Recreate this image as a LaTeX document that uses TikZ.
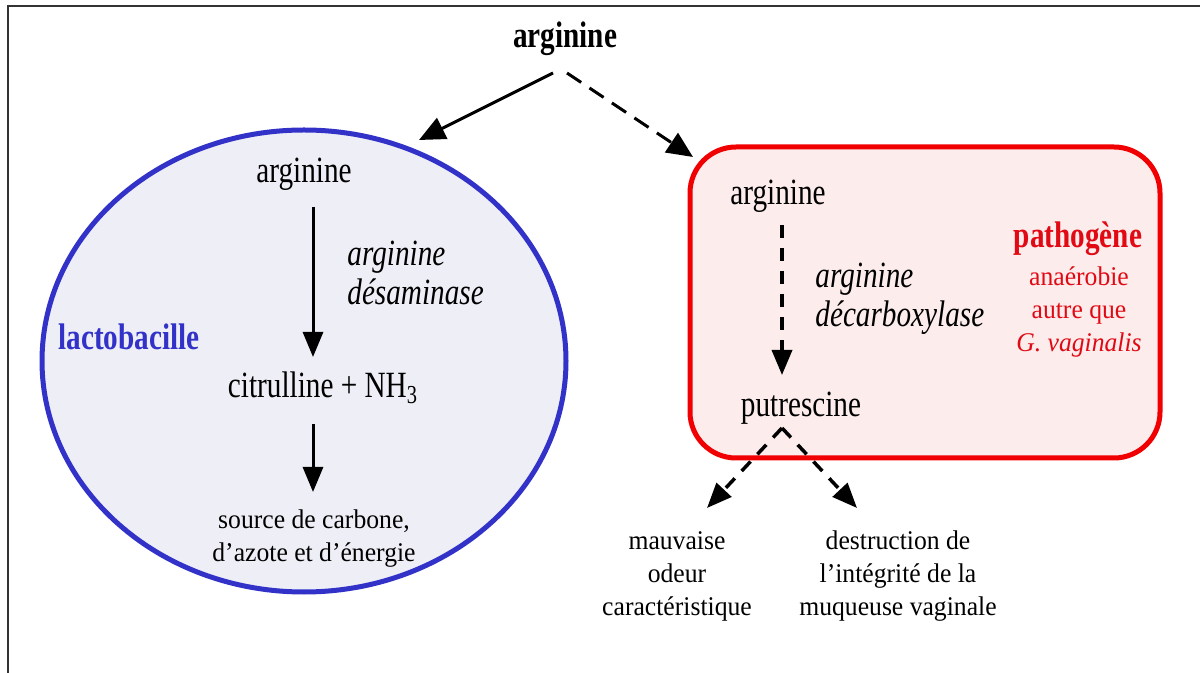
\documentclass[tikz,border=0pt]{standalone}
\usepackage{fontspec}
\setmainfont{Liberation Serif}[FakeStretch=0.79]
\newfontfamily\labelfont{Liberation Serif}[FakeStretch=0.95]
\usetikzlibrary{arrows.meta,shapes.geometric}

\definecolor{lactoblue}{RGB}{50,50,200}
\definecolor{lactofill}{RGB}{238,238,246}
\definecolor{pathored}{RGB}{240,0,0}
\definecolor{pathofill}{RGB}{252,236,236}
\definecolor{pathotext}{RGB}{225,10,20}

\begin{document}
\begin{tikzpicture}[x=0.5pt,y=-0.5pt,
  frameline/.style={draw=black!80,line width=1pt},
  txt/.style={inner sep=0pt,anchor=base,font=\fontsize{18.5}{19.5}\selectfont},
  boldtxt/.style={txt,font=\bfseries\fontsize{18.5}{19.5}\selectfont},
  enzyme/.style={inner sep=0pt,anchor=base west,align=left,font=\itshape\fontsize{18.5}{19.5}\selectfont},
  smalltxt/.style={inner sep=0pt,anchor=base,align=center,font=\labelfont\fontsize{13.5}{16.25}\selectfont},
  solidarrow/.style={line width=1.5pt,-{Triangle[length=13pt,width=11.5pt]}},
  dasharrow/.style={solidarrow,dash pattern=on 8.5pt off 5pt},
  innerarrow/.style={line width=1.5pt,-{Triangle[length=12.5pt,width=10pt]}},
  innerdash/.style={innerarrow,line width=1.75pt,dash pattern=on 6.5pt off 5pt}
]
\useasboundingbox (0,0) rectangle (1200,673);

% page frame (top and left edges)
\draw[frameline] (1200,6) -- (8,6) -- (8,673);

% the two organisms
\node[ellipse,draw=lactoblue,fill=lactofill,line width=2.5pt,
      minimum width=262pt,minimum height=231pt,inner sep=0pt] (lacto) at (304,361) {};
\node[rectangle,rounded corners=23pt,draw=pathored,fill=pathofill,line width=2.5pt,
      minimum width=235pt,minimum height=155.5pt,inner sep=0pt] (patho) at (925,302.5) {};

% substrate on top
\node[boldtxt] (top) at (565,48) {arginine};
\coordinate (topL) at (553,73);
\coordinate (topR) at (567,73);
\coordinate (inL) at (419,140);
\coordinate (inR) at (693,157);
\draw[solidarrow] (topL) -- (inL);
\draw[dasharrow] (topR) -- (inR);

% lactobacillus pathway (multi-line nodes sit on their last baseline)
\node[boldtxt,text=lactoblue,anchor=base west] (lname) at (58,350) {lactobacille};
\node[txt] (arg1) at (304,183) {arginine};
\node[enzyme] (enz1) at (347,305) {arginine\\désaminase};
\node[txt] (citr) at (323,398) {citrulline + NH\textsubscript{3}};
\node[smalltxt] (src) at (314,561) {source de carbone,\\d’azote et d’énergie};
\coordinate (a1s) at (313,207);
\coordinate (a1e) at (313,357);
\coordinate (a2s) at (313,424);
\coordinate (a2e) at (313,492);
\draw[innerarrow] (a1s) -- (a1e);
\draw[innerarrow] (a2s) -- (a2e);

% pathogen pathway
\node[txt] (arg2) at (778,205) {arginine};
\node[enzyme] (enz2) at (815,327) {arginine\\décarboxylase};
\node[txt] (putr) at (801,417) {putrescine};
\coordinate (b1s) at (782,225);
\coordinate (b1e) at (782,375);
\draw[innerdash] (b1s) -- (b1e);

\node[boldtxt,text=pathotext] (pname) at (1078,248) {pathogène};
\node[smalltxt,text=pathotext,font=\labelfont\fontsize{13.5}{16.5}\selectfont] (pdesc) at (1079,352)
  {anaérobie\\autre que\\\textit{G. vaginalis}};

% consequences of putrescine
\coordinate (apex) at (782,428);
\coordinate (c1e) at (707,508);
\coordinate (c2e) at (857,508);
\draw[innerdash] (apex) -- (c1e);
\draw[innerdash] (apex) -- (c2e);

\node[smalltxt] (odeur) at (677,615) {mauvaise\\odeur\\caractéristique};
\node[smalltxt] (muq) at (898,615) {destruction de\\l’intégrité de la\\muqueuse vaginale};
\end{tikzpicture}
\end{document}
